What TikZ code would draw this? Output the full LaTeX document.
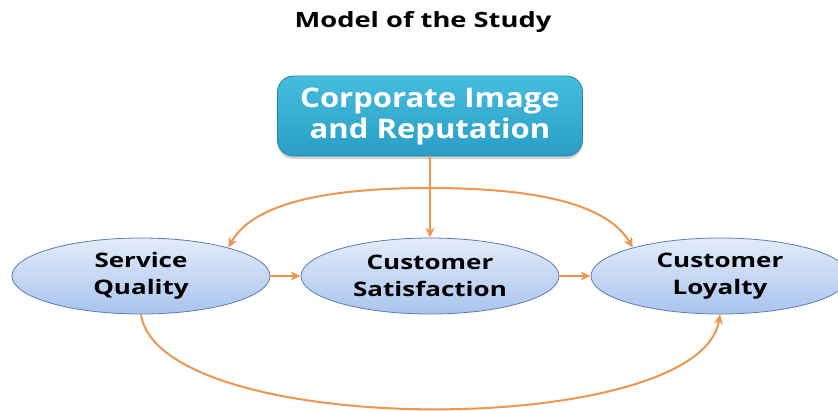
\documentclass[tikz,border=0pt]{standalone}
\usepackage{fontspec}
\setmainfont{Open Sans}
\newfontfamily\wideA{Open Sans}[FakeStretch=1.3]
\newfontfamily\wideB{Open Sans}[FakeStretch=1.15]
\usetikzlibrary{arrows.meta,shapes.geometric,shadows}
\definecolor{boxtop}{HTML}{45BDDD}
\definecolor{boxbot}{HTML}{2A9EC6}
\definecolor{boxedge}{HTML}{2088A8}
\definecolor{elltop}{HTML}{E3ECFA}
\definecolor{ellbot}{HTML}{A9C4EE}
\definecolor{elledge}{HTML}{5B7DB0}
\definecolor{arr}{HTML}{EE9550}
\tikzset{
  x=1pt, y=-1pt,
  topbox/.style={rounded corners=16pt, minimum width=305pt, minimum height=80pt,
    top color=boxtop, bottom color=boxbot, draw=boxedge, line width=0.8pt,
    text=white, font=\wideB\bfseries\fontsize{27}{31}\selectfont, align=center,
    drop shadow={shadow xshift=0pt, shadow yshift=-3pt, opacity=0.35}},
  oval/.style={ellipse, minimum width=258pt, minimum height=76pt, inner sep=0pt,
    top color=elltop, bottom color=ellbot, draw=elledge, line width=0.8pt,
    font=\wideA\bfseries\fontsize{20}{27}\selectfont, align=center},
  link/.style={draw=arr, line width=2pt, -{Stealth[length=10pt,width=9pt]}},
  ttl/.style={font=\wideA\bfseries\fontsize{21}{24}\selectfont}
}
\begin{document}
\begin{tikzpicture}
\clip (0,0) rectangle (838,410);
\fill[white] (0,0) rectangle (838,410);
\node[ttl] (title) at (423,22) {Model of the Study};
\node[topbox] (ci) at (430,116) {Corporate Image\\and Reputation};
\node[oval] (sq) at (141,276) {Service\\Quality};
\node[oval] (cs) at (430,276) {Customer\\Satisfaction};
\node[oval] (cl) at (720,276) {Customer\\Loyalty};
\coordinate (split) at (430,188);
\draw[link] (ci.south) -- (cs.north);
\draw[link] (split) .. controls (300,188) and (248,212) .. (sq.18);
\draw[link] (split) .. controls (560,188) and (612,212) .. (cl.162);
\draw[link] (sq.east) -- (cs.west);
\draw[link] (cs.east) -- (cl.west);
\draw[link] (sq.south) .. controls (160,440) and (700,440) .. (cl.south);
\end{tikzpicture}
\end{document}
